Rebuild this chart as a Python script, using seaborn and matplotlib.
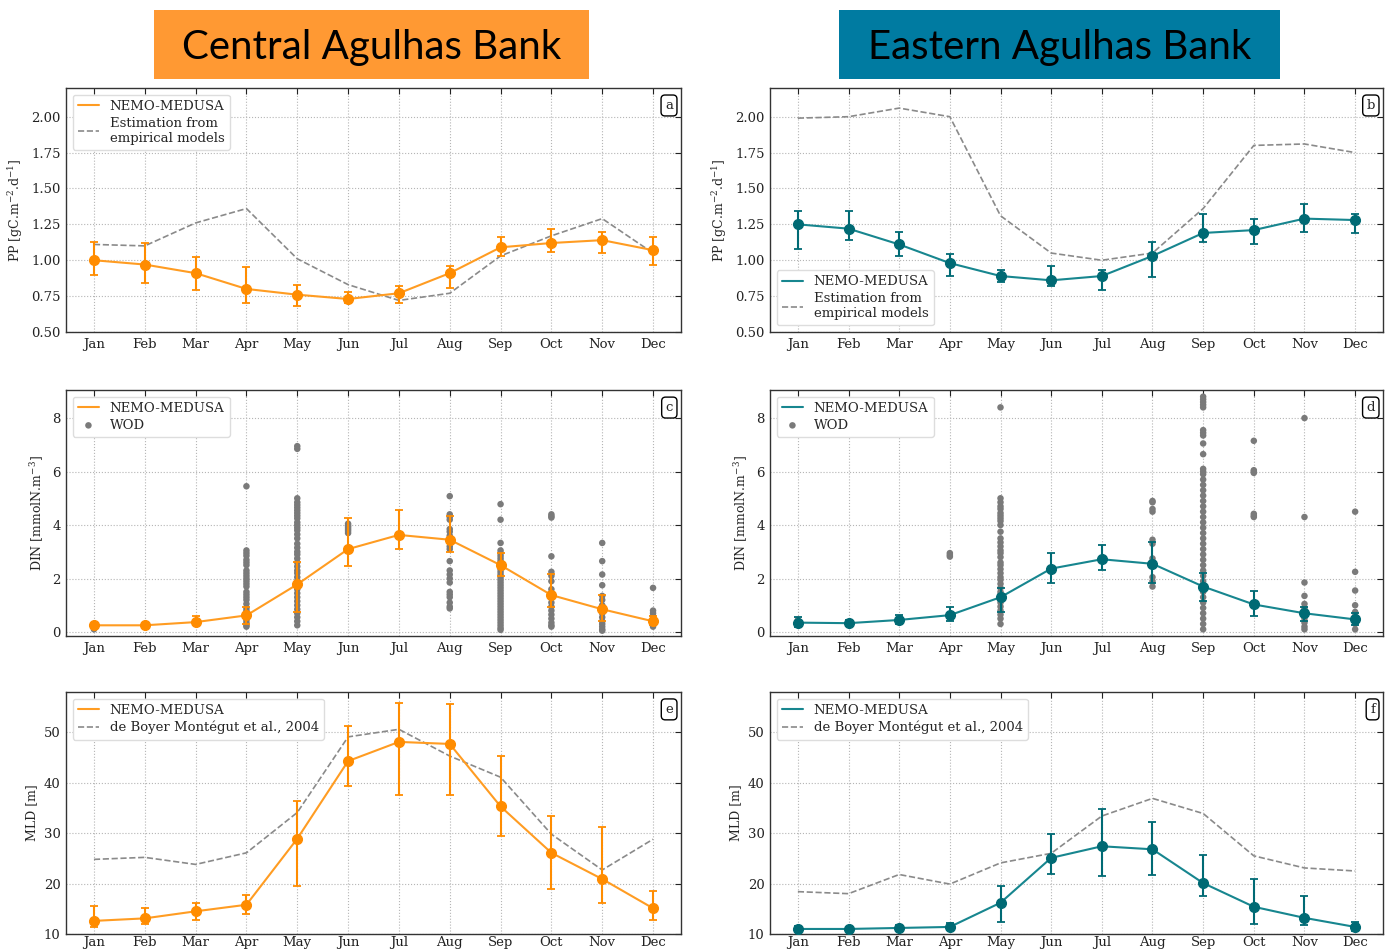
import numpy as np
import pandas as pd
import matplotlib
matplotlib.use("Agg")
import matplotlib.pyplot as plt
import seaborn as sns
from matplotlib.patches import Rectangle

# ---------------------------------------------------------------- data
months = ["Jan", "Feb", "Mar", "Apr", "May", "Jun",
          "Jul", "Aug", "Sep", "Oct", "Nov", "Dec"]

# Primary production (gC m-2 d-1)
pp_cab_model = [1.00, 0.97, 0.91, 0.80, 0.76, 0.73, 0.77, 0.91, 1.09, 1.12, 1.14, 1.07]
pp_cab_low   = [0.90, 0.84, 0.79, 0.70, 0.68, 0.70, 0.70, 0.81, 1.03, 1.06, 1.05, 0.97]
pp_cab_high  = [1.13, 1.12, 1.02, 0.95, 0.83, 0.78, 0.82, 0.96, 1.16, 1.22, 1.20, 1.16]
pp_cab_emp   = [1.11, 1.10, 1.26, 1.36, 1.01, 0.83, 0.72, 0.77, 1.03, 1.17, 1.29, 1.05]

pp_eab_model = [1.25, 1.22, 1.11, 0.98, 0.89, 0.86, 0.89, 1.03, 1.19, 1.21, 1.29, 1.28]
pp_eab_low   = [1.08, 1.14, 1.03, 0.89, 0.85, 0.82, 0.79, 0.88, 1.13, 1.11, 1.20, 1.19]
pp_eab_high  = [1.34, 1.34, 1.20, 1.04, 0.93, 0.96, 0.93, 1.13, 1.32, 1.29, 1.39, 1.32]
pp_eab_emp   = [1.99, 2.00, 2.06, 2.00, 1.31, 1.05, 1.00, 1.05, 1.36, 1.80, 1.81, 1.75]

# Dissolved inorganic nitrogen (mmolN m-3)
din_cab_model = [0.25, 0.25, 0.37, 0.62, 1.78, 3.10, 3.63, 3.45, 2.50, 1.38, 0.85, 0.40]
din_cab_low   = [0.15, 0.18, 0.25, 0.30, 0.75, 2.45, 3.10, 3.00, 2.10, 0.95, 0.40, 0.25]
din_cab_high  = [0.32, 0.32, 0.58, 0.95, 2.60, 4.25, 4.57, 4.35, 2.95, 2.15, 1.40, 0.60]

din_eab_model = [0.35, 0.33, 0.45, 0.63, 1.30, 2.37, 2.72, 2.55, 1.70, 1.03, 0.70, 0.47]
din_eab_low   = [0.20, 0.22, 0.30, 0.42, 0.75, 1.82, 2.32, 1.85, 1.15, 0.58, 0.40, 0.25]
din_eab_high  = [0.55, 0.45, 0.65, 0.95, 1.65, 2.97, 3.27, 3.35, 2.20, 1.55, 0.95, 0.70]

# WOD observations, one list per month
wod_cab = {
    "Jan": [0.10, 0.20],
    "Feb": [],
    "Mar": [],
    "Apr": [5.45, 3.05, 2.95, 2.85, 2.70, 2.60, 2.50, 2.30, 2.20, 2.10, 2.00, 1.90,
            1.80, 1.70, 1.50, 1.40, 1.30, 1.20, 1.05, 0.90, 0.80, 0.70, 0.55, 0.45,
            0.35, 0.25, 0.20],
    "May": [6.95, 6.85, 5.00, 4.85, 4.75, 4.65, 4.55, 4.45, 4.35, 4.25, 4.10, 4.00,
            3.90, 3.80, 3.65, 3.50, 3.30, 3.15, 3.00, 2.90, 2.75, 2.60, 2.45, 2.30,
            2.20, 2.05, 1.90, 1.75, 1.60, 1.45, 1.30, 1.15, 1.00, 0.85, 0.70, 0.55,
            0.40, 0.25],
    "Jun": [4.05, 3.98, 3.92, 3.85, 3.78, 3.70],
    "Jul": [],
    "Aug": [5.08, 4.40, 4.30, 4.20, 3.85, 3.75, 3.60, 3.45, 3.20, 3.10, 2.65, 2.30,
            2.15, 2.00, 1.85, 1.50, 1.40, 1.30, 1.10, 0.95, 0.88],
    "Sep": [4.78, 4.20, 3.33, 3.05, 2.95, 2.85, 2.75, 2.65, 2.55, 2.45, 2.35, 2.25,
            2.15, 2.05, 1.95, 1.85, 1.75, 1.65, 1.55, 1.45, 1.35, 1.25, 1.15, 1.05,
            0.95, 0.85, 0.75, 0.65, 0.55, 0.45, 0.35, 0.25, 0.15, 0.08],
    "Oct": [4.40, 4.33, 4.28, 2.83, 2.25, 2.10, 1.90, 1.60, 1.45, 1.30, 1.10, 0.95,
            0.80, 0.65, 0.50, 0.35, 0.25, 0.20],
    "Nov": [3.33, 2.65, 2.15, 1.75, 1.35, 1.20, 1.00, 0.85, 0.70, 0.55, 0.40, 0.30,
            0.20, 0.10, 0.05],
    "Dec": [1.65, 0.80, 0.70, 0.60, 0.50, 0.40, 0.30, 0.20],
}
wod_eab = {
    "Jan": [0.30, 0.45],
    "Feb": [0.30],
    "Mar": [],
    "Apr": [2.95, 2.88, 2.82],
    "May": [8.40, 5.00, 4.85, 4.70, 4.60, 4.45, 4.35, 4.25, 4.15, 4.00, 3.75, 3.50,
            3.35, 3.20, 3.05, 2.95, 2.80, 2.60, 2.50, 2.35, 2.20, 2.05, 1.95, 1.80,
            1.65, 1.50, 1.40, 1.25, 1.10, 0.95, 0.80, 0.65, 0.50, 0.30],
    "Jun": [],
    "Jul": [],
    "Aug": [4.90, 4.85, 4.60, 4.50, 3.45, 3.30, 2.75, 2.45, 2.05, 1.90, 1.70],
    "Sep": [8.80, 8.70, 8.60, 8.50, 8.40, 7.55, 7.45, 7.35, 7.05, 6.65, 6.10, 6.00,
            5.90, 5.70, 5.50, 5.30, 5.10, 4.90, 4.70, 4.50, 4.30, 4.10, 3.90, 3.70,
            3.50, 3.30, 3.10, 2.90, 2.70, 2.50, 2.30, 2.10, 1.90, 1.70, 1.50, 1.30,
            1.10, 0.90, 0.70, 0.50, 0.30, 0.10],
    "Oct": [7.15, 6.05, 6.00, 5.95, 4.42, 4.35, 4.30],
    "Nov": [8.00, 4.30, 1.85, 1.35, 1.05, 0.90, 0.70, 0.50, 0.35, 0.20, 0.10],
    "Dec": [4.50, 2.25, 1.55, 1.00, 0.75, 0.60, 0.45, 0.30, 0.10],
}

# Mixed layer depth (m)
mld_cab_model = [12.6, 13.1, 14.5, 15.8, 28.9, 44.3, 48.1, 47.7, 35.3, 26.1, 20.9, 15.1]
mld_cab_low   = [11.4, 11.9, 12.8, 13.9, 19.5, 39.3, 37.6, 37.6, 29.5, 18.9, 16.1, 12.7]
mld_cab_high  = [15.6, 15.2, 16.1, 17.7, 36.4, 51.3, 55.8, 55.6, 45.3, 33.5, 31.3, 18.6]
mld_cab_clim  = [24.8, 25.2, 23.8, 26.1, 34.1, 49.1, 50.6, 45.3, 41.1, 29.8, 22.7, 28.8]

mld_eab_model = [11.0, 11.0, 11.2, 11.4, 16.2, 25.1, 27.4, 26.8, 20.1, 15.4, 13.2, 11.4]
mld_eab_low   = [10.6, 10.6, 10.6, 10.8, 12.3, 22.0, 21.6, 21.8, 17.5, 12.0, 11.8, 10.6]
mld_eab_high  = [11.5, 11.4, 11.8, 12.1, 19.6, 29.8, 34.8, 32.3, 25.7, 20.9, 17.6, 12.4]
mld_eab_clim  = [18.4, 18.0, 21.8, 19.9, 24.1, 26.0, 33.4, 36.9, 33.9, 25.5, 23.1, 22.5]

region_titles = ["Central Agulhas Bank", "Eastern Agulhas Bank"]

# ---------------------------------------------------------------- style
sns.set_theme(style="white")
plt.rcParams.update({
    "font.family": ["DejaVu Serif"],
    "mathtext.fontset": "dejavuserif",
    "axes.edgecolor": "#333333",
    "axes.linewidth": 1.0,
})

ORANGE_LINE, ORANGE_MARK = "#ff9c22", "#ff8c00"
TEAL_LINE, TEAL_MARK = "#17868f", "#006a74"
GREY_DOT, GREY_DASH = "#7a7a7a", "#8a8a8a"

x = np.arange(len(months))

fig = plt.figure(figsize=(13.9, 9.51), dpi=100)

W, H = 1390, 951
def px_axes(left, top, right, bottom):
    return fig.add_axes([left / W, 1 - bottom / H, (right - left) / W, (bottom - top) / H])

rows = [(88, 332), (390, 636), (692, 934)]
cols = [(66, 681), (770, 1383)]
axes = [[px_axes(c[0], r[0], c[1], r[1]) for c in cols] for r in rows]


def model_series(ax, mean, low, high, line_c, mark_c):
    mean, low, high = map(np.asarray, (mean, low, high))
    sns.lineplot(x=x, y=mean, ax=ax, color=line_c, lw=1.5, zorder=3,
                 label="NEMO-MEDUSA")
    ax.errorbar(x, mean, yerr=[mean - low, high - mean], fmt="o", color=mark_c,
                ms=7, capsize=3, elinewidth=1.5, capthick=1.3, zorder=4)


def reference_line(ax, vals, label):
    sns.lineplot(x=x, y=vals, ax=ax, color=GREY_DASH, lw=1.2, zorder=2,
                 linestyle="--", label=label)


def wod_points(ax, obs):
    df = pd.DataFrame([(months.index(m), v) for m, vs in obs.items() for v in vs],
                      columns=["month", "din"])
    sns.scatterplot(data=df, x="month", y="din", ax=ax, color=GREY_DOT, s=22,
                    edgecolor="none", zorder=1, label="WOD")


def decorate(ax, letter, ylabel, ylim, yticks, fmt, xpad=4):
    ax.set_xlim(-0.55, 11.55)
    ax.set_ylim(*ylim)
    ax.set_xticks(x)
    ax.set_xticklabels(months)
    ax.set_yticks(yticks)
    ax.set_yticklabels([fmt.format(t) for t in yticks])
    ax.set_xlabel("")
    ax.set_ylabel(ylabel, fontsize=9)
    ax.tick_params(direction="in", top=True, right=True, length=4, width=0.8,
                   labelsize=9.5, pad=4, colors="#222222")
    ax.tick_params(axis="x", pad=xpad)
    ax.grid(True, linestyle=":", color="#b5b5b5", lw=0.8)
    ax.set_axisbelow(True)
    ax.text(0.987, 0.955, letter, transform=ax.transAxes, ha="right", va="top",
            fontsize=9.5, bbox=dict(boxstyle="round,pad=0.3", fc="white",
                                    ec="black", lw=1.0))


def legend(ax, loc, order=None):
    h, l = ax.get_legend_handles_labels()
    if order is not None:
        h = [h[i] for i in order]
        l = [l[i] for i in order]
    ax.legend(h, l, loc=loc, fontsize=9.5, frameon=True, fancybox=True,
              framealpha=1, edgecolor="#dddddd", handlelength=1.6,
              borderaxespad=0.5, labelspacing=0.3)


pp_ticks = [0.50, 0.75, 1.00, 1.25, 1.50, 1.75, 2.00]
din_ticks = [0, 2, 4, 6, 8]
mld_ticks = [10, 20, 30, 40, 50]
pp_label = r"PP [gC.m$^{-2}$.d$^{-1}$]"
din_label = r"DIN [mmolN.m$^{-3}$]"
mld_label = "MLD [m]"
emp_label = "Estimation from\nempirical models"
clim_label = "de Boyer Montégut et al., 2004"

# PP panels
ax = axes[0][0]
model_series(ax, pp_cab_model, pp_cab_low, pp_cab_high, ORANGE_LINE, ORANGE_MARK)
reference_line(ax, pp_cab_emp, emp_label)
decorate(ax, "a", pp_label, (0.5, 2.2), pp_ticks, "{:.2f}")
legend(ax, "upper left")

ax = axes[0][1]
model_series(ax, pp_eab_model, pp_eab_low, pp_eab_high, TEAL_LINE, TEAL_MARK)
reference_line(ax, pp_eab_emp, emp_label)
decorate(ax, "b", pp_label, (0.5, 2.2), pp_ticks, "{:.2f}")
legend(ax, "lower left")

# DIN panels
ax = axes[1][0]
wod_points(ax, wod_cab)
model_series(ax, din_cab_model, din_cab_low, din_cab_high, ORANGE_LINE, ORANGE_MARK)
decorate(ax, "c", din_label, (-0.15, 9.05), din_ticks, "{:d}")
legend(ax, "upper left", order=[1, 0])

ax = axes[1][1]
wod_points(ax, wod_eab)
model_series(ax, din_eab_model, din_eab_low, din_eab_high, TEAL_LINE, TEAL_MARK)
decorate(ax, "d", din_label, (-0.15, 9.05), din_ticks, "{:d}")
legend(ax, "upper left", order=[1, 0])

# MLD panels (bottom row, tighter label padding)
ax = axes[2][0]
model_series(ax, mld_cab_model, mld_cab_low, mld_cab_high, ORANGE_LINE, ORANGE_MARK)
reference_line(ax, mld_cab_clim, clim_label)
decorate(ax, "e", mld_label, (10, 58), mld_ticks, "{:d}", xpad=1.5)
legend(ax, "upper left")

ax = axes[2][1]
model_series(ax, mld_eab_model, mld_eab_low, mld_eab_high, TEAL_LINE, TEAL_MARK)
reference_line(ax, mld_eab_clim, clim_label)
decorate(ax, "f", mld_label, (10, 58), mld_ticks, "{:d}", xpad=1.5)
legend(ax, "upper left")

# Region banners
banners = [(154, 589, "#ff9933", region_titles[0]),
           (839, 1280, "#007ba1", region_titles[1])]
for x0, x1, col, title in banners:
    fig.patches.append(Rectangle((x0 / W, 1 - 79 / H), (x1 - x0) / W, 69 / H,
                                 transform=fig.transFigure, facecolor=col,
                                 edgecolor="none", zorder=0))
    fig.text((x0 + x1) / 2 / W, 1 - 47 / H, title, ha="center", va="center",
             fontsize=29, family=["Lato", "DejaVu Sans"], color="black")

fig.savefig("out.png", dpi=100)
